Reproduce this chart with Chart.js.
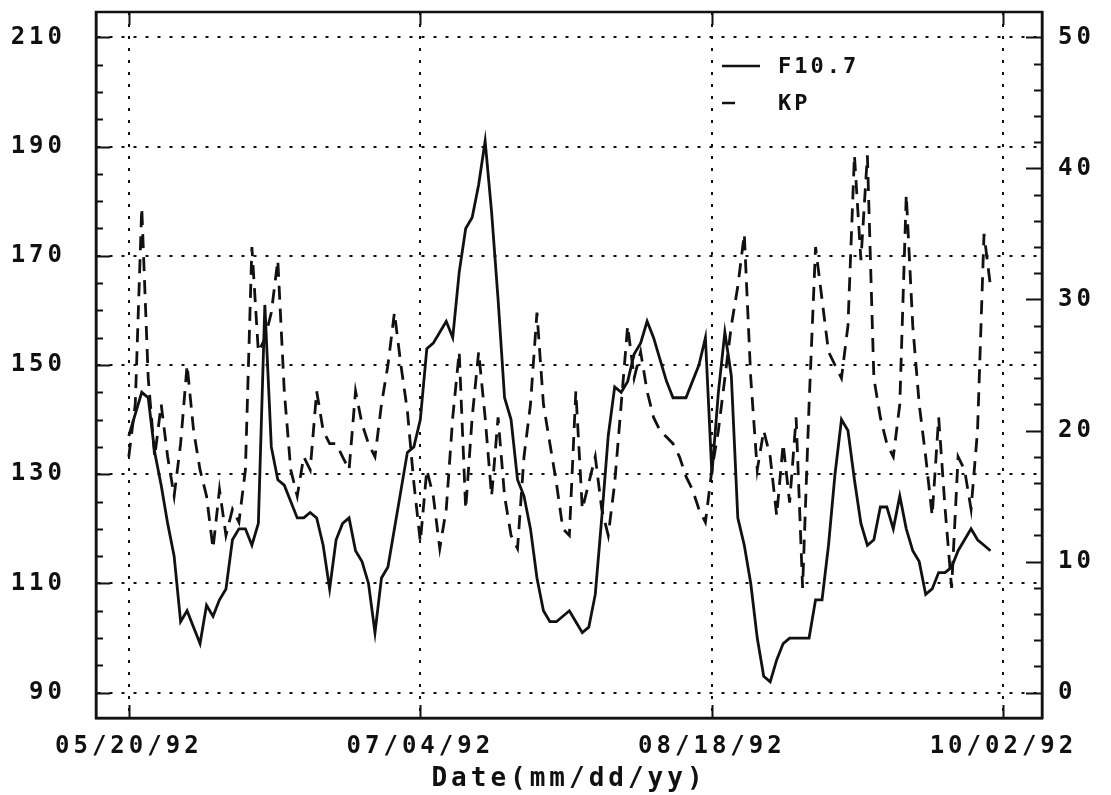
<!DOCTYPE html>
<html>
<head>
<meta charset="utf-8">
<script src="https://cdn.jsdelivr.net/npm/chart.js@4.4.0/dist/chart.umd.min.js"></script>
<style>
  html, body { margin: 0; padding: 0; background: #fff; }
</style>
</head>
<body>
<canvas id="myChart" width="1111" height="795"></canvas>
<script>
// days are counted from 05/20/92
var tickDays = [0, 45, 90, 135];
var tickLabels = ['05/20/92', '07/04/92', '08/18/92', '10/02/92'];
var leftTicks = [90, 110, 130, 150, 170, 190, 210];
var rightTicks = [0, 10, 20, 30, 40, 50];

// daily F10.7 solar flux
var f107 = [
	137, 141, 145, 144, 134, 128, 121, 115, 103, 105,
	102, 99, 106, 104, 107, 109, 118, 120, 120, 117,
	121, 161, 135, 129, 128, 125, 122, 122, 123, 122,
	117, 109, 118, 121, 122, 116, 114, 110, 101, 111,
	113, 120, 127, 134, 135, 140, 153, 154, 156, 158,
	155, 167, 175, 177, 183, 191, 178, 162, 144, 140,
	129, 126, 120, 111, 105, 103, 103, 104, 105, 103,
	101, 102, 108, 122, 137, 146, 145, 147, 152, 154,
	158, 155, 151, 147, 144, 144, 144, 147, 150, 155,
	130, 145, 156, 148, 122, 117, 110, 100, 93, 92,
	96, 99, 100, 100, 100, 100, 107, 107, 117, 130,
	140, 138, 129, 121, 117, 118, 124, 124, 120, 126,
	120, 116, 114, 108, 109, 112, 112, 113, 116, 118,
	120, 118, 117, 116,
];

// daily KP, right axis
var kp = [
	18, 22, 37, 24, 18, 22, 18, 15, 19, 25,
	20, 17, 15, 11, 15.5, 12, 14, 13, 17, 34,
	26, 27, 29, 33, 23, 17, 15, 18, 17, 23,
	20, 19, 19, 18, 17, 23, 20.5, 19, 18, 22,
	25, 29, 25, 21.5, 16, 11.5, 17, 15, 11, 14,
	21, 26, 14, 21, 26, 21, 15, 21, 15, 12,
	11, 18, 22, 29, 22, 19, 16, 12.5, 12, 23,
	14, 16, 18, 14, 12, 16, 22, 28, 24, 26,
	23, 21, 20, 19.5, 19, 18, 16.5, 15.5, 14, 13,
	17, 20, 24, 28, 31, 35, 24, 17, 20, 18,
	13.5, 19, 14.5, 21, 8, 22, 34, 30, 26, 25,
	24, 28, 41, 33, 41, 24, 21, 19, 18, 22,
	38, 28, 22, 18, 13.5, 21, 14, 8, 18, 17,
	14, 20, 35, 31,
];

var ink = '#111';
var mono = 'DejaVu Sans Mono';

function toPoints(values) {
	return values.map(function (v, i) { return { x: i, y: v }; });
}

// box round the plot, inward tick marks, and the legend inside the plot
var frameAndLegend = {
	id: 'frameAndLegend',
	beforeDraw: function (chart) {
		chart.ctx.letterSpacing = '4px';
	},
	afterDraw: function (chart) {
		var ctx = chart.ctx, a = chart.chartArea;
		var sx = chart.scales.x, sl = chart.scales.y, sr = chart.scales.y2;
		ctx.save();
		ctx.setLineDash([]);
		ctx.strokeStyle = ink;
		ctx.lineWidth = 2.5;
		ctx.strokeRect(a.left, a.top, a.right - a.left, a.bottom - a.top);

		ctx.lineWidth = 2;
		ctx.beginPath();
		var v, p, len;
		for (v = 90; v <= 210; v += 5) {
			p = Math.round(sl.getPixelForValue(v)) + 0.5;
			len = v % 20 === 10 ? 14 : 7;
			ctx.moveTo(a.left, p); ctx.lineTo(a.left + len, p);
		}
		for (v = 0; v <= 50; v += 2) {
			p = Math.round(sr.getPixelForValue(v)) + 0.5;
			len = v % 10 === 0 ? 16 : 8;
			ctx.moveTo(a.right, p); ctx.lineTo(a.right - len, p);
		}
		tickDays.forEach(function (d) {
			p = Math.round(sx.getPixelForValue(d)) + 0.5;
			ctx.moveTo(p, a.bottom); ctx.lineTo(p, a.bottom - 13);
			ctx.moveTo(p, a.top); ctx.lineTo(p, a.top + 13);
		});
		ctx.stroke();

		// legend
		var ds = chart.data.datasets;
		var lx = a.left + 626, ly = a.top + 54, gap = 37;
		ctx.lineWidth = 2.5;
		ctx.beginPath();
		ctx.moveTo(lx, ly); ctx.lineTo(lx + 38, ly);
		ctx.moveTo(lx, ly + gap); ctx.lineTo(lx + 13, ly + gap);
		ctx.stroke();
		ctx.fillStyle = ink;
		ctx.font = 'bold 22px ' + mono;
		ctx.letterSpacing = '3px';
		ctx.textBaseline = 'middle';
		ctx.textAlign = 'left';
		ctx.fillText(ds[0].label, lx + 56, ly + 1);
		ctx.fillText(ds[1].label, lx + 56, ly + gap + 1);
		ctx.restore();
	},
};

function fixHeight(h) {
	return function (s) { s.height = h; s.paddingLeft = 0; s.paddingRight = 0; };
}
function fixWidth(w) {
	return function (s) { s.width = w; s.paddingTop = 0; s.paddingBottom = 0; };
}

var tickFont = { family: mono, size: 24, weight: 'bold' };

new Chart('myChart', {
	type: 'line',
	data: {
		datasets: [
			{
				label: 'F10.7',
				data: toPoints(f107),
				borderColor: ink,
				borderWidth: 2.8,
				pointRadius: 0,
				fill: false,
				tension: 0,
				yAxisID: 'y',
			},
			{
				label: 'KP',
				data: toPoints(kp),
				borderColor: ink,
				borderWidth: 2.8,
				borderDash: [14, 9],
				pointRadius: 0,
				fill: false,
				tension: 0,
				yAxisID: 'y2',
			},
		],
	},
	options: {
		responsive: false,
		animation: false,
		devicePixelRatio: 1,
		layout: { padding: { top: 12, left: 0, right: 0, bottom: 0 } },
		plugins: {
			legend: { display: false },
			tooltip: { enabled: false },
		},
		scales: {
			x: {
				type: 'linear',
				position: 'bottom',
				min: -5.06,
				max: 140.95,
				afterBuildTicks: function (s) {
					s.ticks = tickDays.map(function (d) { return { value: d }; });
				},
				afterFit: fixHeight(77),
				ticks: {
					autoSkip: false,
					maxRotation: 0,
					padding: 14,
					color: ink,
					font: tickFont,
					callback: function (v) { return tickLabels[tickDays.indexOf(v)]; },
				},
				grid: { color: ink, lineWidth: 2, drawTicks: false },
				border: { display: true, color: ink, width: 2.5, dash: [3, 9] },
				title: {
					display: true,
					text: 'Date(mm/dd/yy)',
					color: ink,
					font: { family: mono, size: 26, weight: 'bold' },
					padding: { top: 0, bottom: 0 },
				},
			},
			y: {
				position: 'left',
				min: 85.37,
				max: 214.63,
				afterBuildTicks: function (s) {
					s.ticks = leftTicks.map(function (v) { return { value: v }; });
				},
				afterFit: fixWidth(96),
				ticks: { padding: 30, color: ink, font: tickFont },
				grid: { color: ink, lineWidth: 2, drawTicks: false },
				border: { display: true, color: ink, width: 2.5, dash: [3, 9] },
			},
			y2: {
				position: 'right',
				min: -1.93,
				max: 51.93,
				afterBuildTicks: function (s) {
					s.ticks = rightTicks.map(function (v) { return { value: v }; });
				},
				afterFit: fixWidth(69),
				ticks: { padding: 16, color: ink, font: tickFont },
				grid: { drawOnChartArea: false, drawTicks: false },
				border: { display: true, color: ink, width: 2.5 },
			},
		},
	},
	plugins: [frameAndLegend],
});
</script>
</body>
</html>
